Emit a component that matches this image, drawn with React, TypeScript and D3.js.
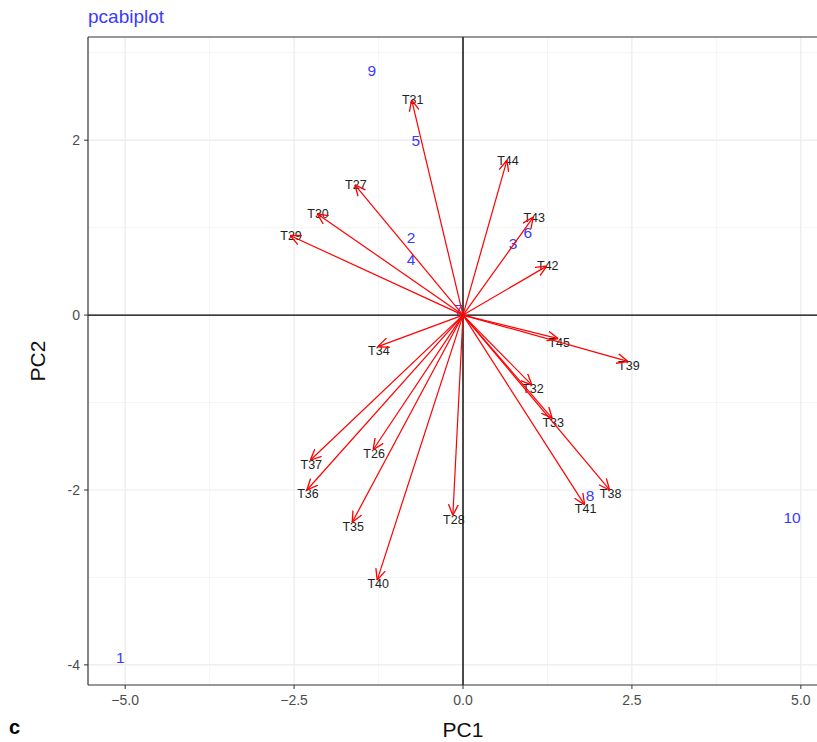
import React from "react";
import * as d3 from "d3";

const sampleIds = ["1", "2", "3", "4", "5", "6", "7", "8", "9", "10"];
const sampleX = [-5.07, -0.77, 0.74, -0.77, -0.7, 0.96, -0.07, 1.88, -1.35, 4.87];
const sampleY = [-3.92, 0.89, 0.82, 0.64, 2.0, 0.94, 0.06, -2.06, 2.8, -2.31];

const varNames = ["T26", "T27", "T28", "T29", "T30", "T31", "T32", "T33", "T34", "T35", "T36", "T37", "T38", "T39", "T40", "T41", "T42", "T43", "T44", "T45"];
const varX = [-1.33, -1.6, -0.15, -2.56, -2.16, -0.76, 1.02, 1.32, -1.26, -1.64, -2.31, -2.26, 2.17, 2.44, -1.27, 1.8, 1.24, 1.04, 0.65, 1.41];
const varY = [-1.54, 1.49, -2.29, 0.91, 1.16, 2.46, -0.8, -1.18, -0.36, -2.37, -2.0, -1.66, -2.0, -0.53, -3.03, -2.17, 0.56, 1.12, 1.77, -0.27];

const xTicks = [-5, -2.5, 0, 2.5, 5];
const xMinor = [-3.75, -1.25, 1.25, 3.75];
const yTicks = [-4, -2, 0, 2];
const yMinor = [-3, -1, 1, 3];

const W = 817, H = 742;
const L = 88, R = 838, T = 37, B = 685;

export default function App() {
  const x = d3.scaleLinear().domain([-5.55, 5.55]).range([L, R]);
  const y = d3.scaleLinear().domain([-4.23, 3.18]).range([B, T]);
  const font = "'Liberation Sans', Arial, sans-serif";
  return (
    <svg width={W} height={H} style={{ position: "absolute", left: 0, top: 0, background: "#fff" }} fontFamily={font}>
      <defs>
        <clipPath id="panel"><rect x={L} y={T} width={R - L} height={B - T} /></clipPath>
        <marker id="arr" viewBox="0 0 10 10" refX="10" refY="5" markerWidth="11" markerHeight="11" markerUnits="userSpaceOnUse" orient="auto">
          <path d="M0,0.5 L10,5 L0,9.5" fill="none" stroke="red" strokeWidth="1.2" />
        </marker>
      </defs>
      <rect x={0} y={0} width={W} height={H} fill="#fff" />
      <g clipPath="url(#panel)">
        {xMinor.map((v) => <line key={"xm" + v} x1={x(v)} x2={x(v)} y1={T} y2={B} stroke="#f2f2f2" strokeWidth={0.8} />)}
        {yMinor.map((v) => <line key={"ym" + v} y1={y(v)} y2={y(v)} x1={L} x2={R} stroke="#f2f2f2" strokeWidth={0.8} />)}
        {xTicks.map((v) => <line key={"xg" + v} x1={x(v)} x2={x(v)} y1={T} y2={B} stroke="#ebebeb" strokeWidth={1.2} />)}
        {yTicks.map((v) => <line key={"yg" + v} y1={y(v)} y2={y(v)} x1={L} x2={R} stroke="#ebebeb" strokeWidth={1.2} />)}
        <line x1={x(0)} x2={x(0)} y1={T} y2={B} stroke="#000" strokeWidth={1.4} />
        <line y1={y(0)} y2={y(0)} x1={L} x2={R} stroke="#000" strokeWidth={1.4} />
        {sampleIds.map((s, i) => (
          <text key={"s" + s} x={x(sampleX[i])} y={y(sampleY[i])} dy="0.35em" textAnchor="middle" fontSize={15.5} fill="#3a3aff">{s}</text>
        ))}
        {varNames.map((n, i) => (
          <text key={"t" + n} x={x(varX[i])} y={y(varY[i]) + (varY[i] < 0 ? 4 : 0)} dx={1} dy="0.35em" textAnchor="middle" fontSize={12.5} fill="#222">{n}</text>
        ))}
        {varNames.map((n, i) => (
          <line key={"a" + n} x1={x(0)} y1={y(0)} x2={x(varX[i])} y2={y(varY[i])} stroke="red" strokeWidth={1.2} markerEnd="url(#arr)" />
        ))}
      </g>
      <line x1={L} x2={L} y1={T} y2={B} stroke="#333" strokeWidth={1.2} />
      <line x1={L} x2={R} y1={B} y2={B} stroke="#333" strokeWidth={1.2} />
      <line x1={L} x2={R} y1={T} y2={T} stroke="#333" strokeWidth={1.2} />
      {xTicks.map((v) => (
        <g key={"xt" + v}>
          <line x1={x(v)} x2={x(v)} y1={B} y2={B + 4} stroke="#333" />
          <text x={x(v)} y={B + 20} textAnchor="middle" fontSize={14} fill="#4d4d4d">{d3.format(".1f")(v)}</text>
        </g>
      ))}
      {yTicks.map((v) => (
        <g key={"yt" + v}>
          <line x1={L - 4} x2={L} y1={y(v)} y2={y(v)} stroke="#333" />
          <text x={L - 8} y={y(v)} dy="0.35em" textAnchor="end" fontSize={14} fill="#4d4d4d">{v}</text>
        </g>
      ))}
      <text x={x(0)} y={737} textAnchor="middle" fontSize={21} fill="#111">PC1</text>
      <text transform={`translate(45,${(T + B) / 2}) rotate(-90)`} textAnchor="middle" fontSize={21} fill="#111">PC2</text>
      <text x={L} y={23} fontSize={19} fill="#3a3aff">pcabiplot</text>
      <text x={9} y={734} fontSize={20} fontWeight="bold" fill="#000">c</text>
    </svg>
  );
}
